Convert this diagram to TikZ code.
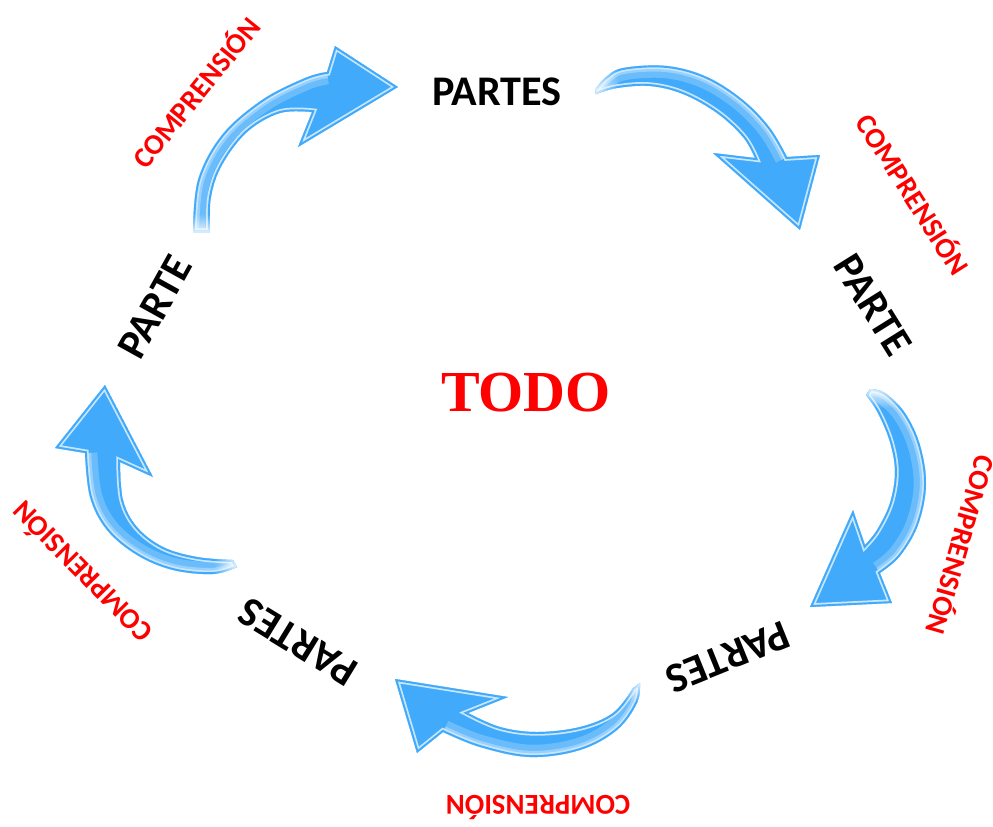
\documentclass[tikz,border=0pt]{standalone}
\usepackage{fontspec}
\usetikzlibrary{fadings}
\newfontfamily\calfont{Carlito}
\newfontfamily\serfont{Liberation Serif}
\definecolor{abl}{RGB}{66,170,250}
\definecolor{alight}{RGB}{200,230,253}
\definecolor{tred}{RGB}{255,0,0}
\tikzset{
  lab/.style={font=\calfont\bfseries\fontsize{12}{14}\selectfont, inner sep=0pt},
  comp/.style={font=\calfont\bfseries\fontsize{8.2}{10}\selectfont, text=tred, inner sep=0pt, text height=5.3pt, text depth=0pt},
}
% #1 outline, #2 outer edge (highlight), #3 tail fade rectangle, #4 fade direction
\newcommand\glossy[4]{%
  \begin{scope}
    \clip #1;
    \fill[abl] #1;
    \draw[white, opacity=.22, line width=7pt] #2;
    \draw[white, opacity=.3, line width=3.5pt] #2;
    \draw[alight, line width=2.1pt] #1;
    \draw[abl, line width=1.1pt] #1;
    \fill[white, path fading=#4] #3;
  \end{scope}}
\begin{document}
\begin{tikzpicture}[x=0.01cm,y=-0.01cm]
\useasboundingbox (0,0) rectangle (993,826);

% arrow top-left
\glossy{plot[smooth, tension=0.6] coordinates {(193,232) (198,180) (222,135) (262,100) (305,78) (327,72)}
  -- (335,46) -- (398,87) -- (298,147) -- (312,112)
  -- plot[smooth, tension=0.6] coordinates {(312,112) (280,113) (247,132) (222,165) (211,197) (210,232)} -- cycle}
 {plot[smooth, tension=0.6] coordinates {(193,232) (198,180) (222,135) (262,100) (305,78) (327,72)}}
 {(185,214) rectangle (222,236)}{north}

% arrow top-right
\glossy{plot[smooth, tension=0.6] coordinates {(595,90) (605,78) (623,68) (667,66) (707,77) (743,100) (770,128) (787,157)}
  -- (820,155) -- (800,230) -- (713,153) -- (755,158)
  -- plot[smooth, tension=0.6] coordinates {(755,158) (743,137) (717,113) (683,94) (650,86) (617,88) (596,94)} -- cycle}
 {plot[smooth, tension=0.6] coordinates {(595,90) (605,78) (623,68) (667,66) (707,77) (743,100) (770,128) (787,157)}}
 {(590,60) rectangle (618,100)}{east}

% arrow right
\glossy{plot[smooth, tension=0.6] coordinates {(870,389) (885,393) (905,413) (920,445) (926,485) (918,525) (900,556) (880,573)}
  -- (892,603) -- (810,607) -- (853,510) -- (865,545)
  -- plot[smooth, tension=0.6] coordinates {(865,545) (877,530) (890,503) (895,472) (890,442) (878,413) (866,395)} -- cycle}
 {plot[smooth, tension=0.6] coordinates {(870,389) (885,393) (905,413) (920,445) (926,485) (918,525) (900,556) (880,573)}}
 {(858,384) rectangle (900,408)}{south}

% arrow bottom
\glossy{plot[smooth, tension=0.6] coordinates {(640,683) (637,703) (617,730) (580,750) (530,757) (480,747) (443,732)}
  -- (417,753) -- (395,679) -- (508,697) -- (468,713)
  -- plot[smooth, tension=0.6] coordinates {(468,713) (500,727) (537,732) (580,727) (613,713) (633,688)} -- cycle}
 {plot[smooth, tension=0.6] coordinates {(640,683) (637,703) (617,730) (580,750) (530,757) (480,747) (443,732)}}
 {(622,678) rectangle (646,702)}{south}

% arrow left
\glossy{plot[smooth, tension=0.6] coordinates {(237,567) (213,574) (173,570) (137,555) (107,530) (90,497) (85,453)}
  -- (55,448) -- (105,385) -- (153,477) -- (120,462)
  -- plot[smooth, tension=0.6] coordinates {(120,462) (123,500) (137,527) (163,547) (197,557) (233,560)} -- cycle}
 {plot[smooth, tension=0.6] coordinates {(237,567) (213,574) (173,570) (137,555) (107,530) (90,497) (85,453)}}
 {(214,550) rectangle (241,580)}{west}

% texts
\node[font=\serfont\bfseries\fontsize{16.5}{20}\selectfont, text=tred, inner sep=0pt] (todo) at (526,393) {TODO};

\node[lab] (p1) at (497,92) {PARTES};
\node[lab, rotate=-58] (p2) at (873,305) {PARTE};
\node[lab, rotate=202] (p3) at (728,657) {PARTES};
\node[lab, rotate=148.5] (p4) at (298,642) {PARTES};
\node[lab, rotate=61] (p5) at (155,307) {PARTE};

\node[comp, rotate=51] (c1) at (197,93) {COMPRENSIÓN};
\node[comp, rotate=-57.5] (c2) at (912,195) {COMPRENSIÓN};
\node[comp, rotate=-106] (c3) at (960,545) {COMPRENSIÓN};
\node[comp, rotate=180] (c4) at (538,805) {COMPRENSIÓN};
\node[comp, rotate=134.6] (c5) at (83,571) {COMPRENSIÓN};
\end{tikzpicture}
\end{document}
